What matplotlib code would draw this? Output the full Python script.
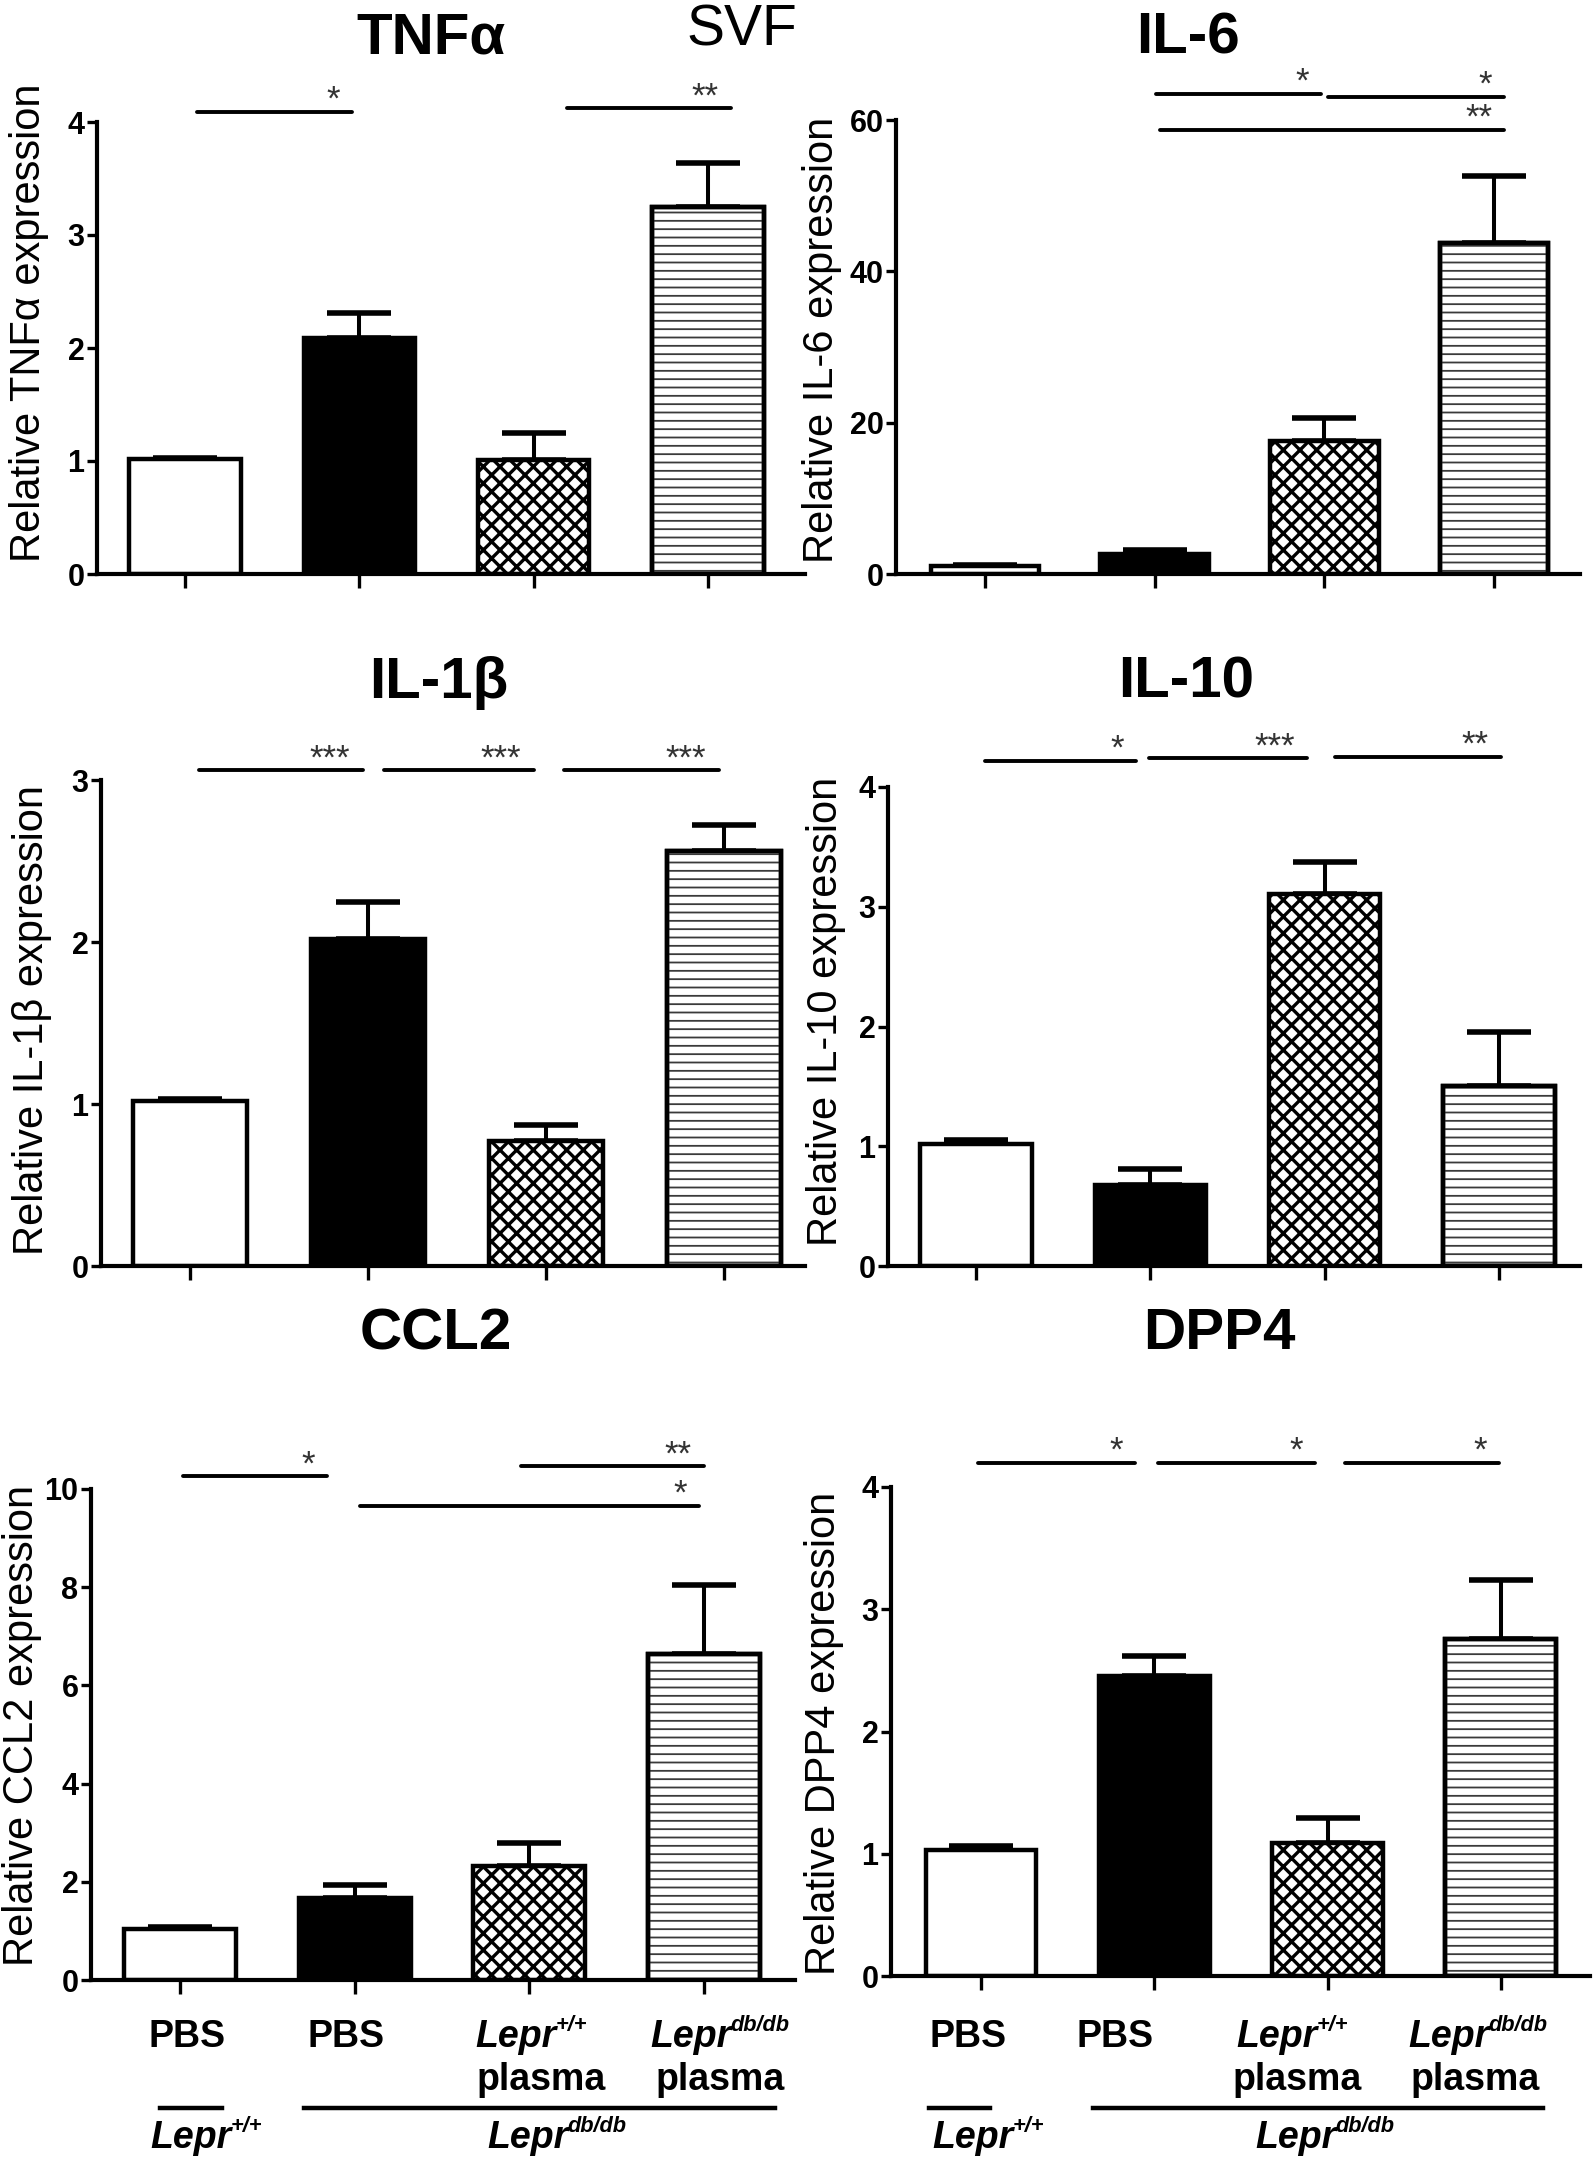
import matplotlib
matplotlib.use("Agg")
import matplotlib.pyplot as plt
import matplotlib.font_manager as fm
import numpy as np

W, H, DPI = 1594, 2160, 100

_names = {f.name for f in fm.fontManager.ttflist}
SANS = "Liberation Sans" if "Liberation Sans" in _names else "DejaVu Sans"
plt.rcParams["font.family"] = [SANS, "DejaVu Sans"]
plt.rcParams["hatch.linewidth"] = 2.4

# ---------------- data ----------------
groups = ["PBS", "PBS", "Lepr+/+ plasma", "Lepr db/db plasma"]

tnfa_mean = [1.02, 2.09, 1.01, 3.25]
tnfa_sem = [0.01, 0.22, 0.24, 0.39]
il6_mean = [1.0, 2.6, 17.6, 43.7]
il6_sem = [0.15, 0.6, 3.0, 8.9]
il1b_mean = [1.02, 2.02, 0.77, 2.56]
il1b_sem = [0.01, 0.23, 0.10, 0.16]
il10_mean = [1.02, 0.68, 3.11, 1.50]
il10_sem = [0.03, 0.13, 0.26, 0.45]
ccl2_mean = [1.03, 1.67, 2.32, 6.64]
ccl2_sem = [0.04, 0.26, 0.47, 1.40]
dpp4_mean = [1.03, 2.45, 1.09, 2.76]
dpp4_sem = [0.03, 0.17, 0.20, 0.48]

# significance brackets: (x start, x end, y, label)
tnfa_sig = [(0.07, 0.96, 4.09, "*"), (2.19, 3.13, 4.12, "**")]
il6_sig = [(1.01, 1.98, 63.5, "*"), (2.02, 3.06, 63.1, "*"), (1.03, 3.06, 58.7, "**")]
il1b_sig = [(0.05, 0.97, 3.06, "***"), (1.09, 1.93, 3.06, "***"), (2.10, 2.97, 3.06, "***")]
il10_sig = [(0.05, 0.92, 4.22, "*"), (0.99, 1.90, 4.24, "***"), (2.06, 3.01, 4.25, "**")]
ccl2_sig = [(0.02, 0.84, 10.26, "*"), (1.95, 3.00, 10.46, "**"), (1.03, 2.97, 9.65, "*")]
dpp4_sig = [(-0.02, 0.89, 4.20, "*"), (1.02, 1.93, 4.20, "*"), (2.10, 2.99, 4.20, "*")]

tnfa_ticks = [0, 1, 2, 3, 4]
il6_ticks = [0, 20, 40, 60]
il1b_ticks = [0, 1, 2, 3]
il10_ticks = [0, 1, 2, 3, 4]
ccl2_ticks = [0, 2, 4, 6, 8, 10]
dpp4_ticks = [0, 1, 2, 3, 4]

panels = [
    dict(title="TNFα", ylabel="Relative TNFα expression", mean=tnfa_mean, sem=tnfa_sem,
         sig=tnfa_sig, ticks=tnfa_ticks,
         box=(97, 805, 185, 174.3, 574, 122), tpos=(431, 53), lpos=(29, 323)),
    dict(title="IL-6", ylabel="Relative IL-6 expression", mean=il6_mean, sem=il6_sem,
         sig=il6_sig, ticks=il6_ticks,
         box=(896, 1580, 985, 169.7, 574, 120), tpos=(1188, 53), lpos=(822, 340)),
    dict(title="IL-1β", ylabel="Relative IL-1β expression", mean=il1b_mean, sem=il1b_sem,
         sig=il1b_sig, ticks=il1b_ticks,
         box=(101, 805, 190, 178.0, 1266, 780), tpos=(439, 698), lpos=(32, 1020)),
    dict(title="IL-10", ylabel="Relative IL-10 expression", mean=il10_mean, sem=il10_sem,
         sig=il10_sig, ticks=il10_ticks,
         box=(888, 1580, 976, 174.3, 1266, 787), tpos=(1186, 698), lpos=(826, 1011)),
    dict(title="CCL2", ylabel="Relative CCL2 expression", mean=ccl2_mean, sem=ccl2_sem,
         sig=ccl2_sig, ticks=ccl2_ticks,
         box=(91, 795, 180, 174.7, 1980, 1489), tpos=(436, 1350), lpos=(22, 1725)),
    dict(title="DPP4", ylabel="Relative DPP4 expression", mean=dpp4_mean, sem=dpp4_sem,
         sig=dpp4_sig, ticks=dpp4_ticks,
         box=(891, 1590, 981, 173.3, 1976, 1487), tpos=(1219, 1349), lpos=(824, 1733)),
]


def fx(x):
    return x / W


def fy(y):
    return 1 - y / H


fig = plt.figure(figsize=(W / DPI, H / DPI), dpi=DPI)
fig.patch.set_facecolor("white")

LW = 3.2
HATCH_GRAY = "#3a3a3a"

for p in panels:
    left, right, t0, sp, y0, ytop = p["box"]
    ax = fig.add_axes([fx(left), fy(y0), (right - left) / W, (y0 - ytop) / H])
    ax.set_xlim((left - t0) / sp, (right - t0) / sp)
    ax.set_ylim(0, p["ticks"][-1])
    x = np.arange(len(p["mean"]))
    mean = np.array(p["mean"])
    sem = np.array(p["sem"])

    ax.errorbar(x, mean, yerr=[np.zeros_like(sem), sem], fmt="none", ecolor="black",
                elinewidth=2.9, capsize=23, capthick=4.0, zorder=1, clip_on=False)
    bars = ax.bar(x, mean, width=0.64, color=["white", "black", "white", "white"],
                  edgecolor="black", linewidth=LW, zorder=2)
    bars[2].set_hatch("xx")
    stripes = ax.bar(x[3:], mean[3:], width=0.64, color="none", edgecolor=HATCH_GRAY,
                     hatch="--", linewidth=0, zorder=3)
    for s in stripes:
        if hasattr(s, "set_hatch_linewidth"):
            s.set_hatch_linewidth(1.3)
    ax.bar(x[3:], mean[3:], width=0.64, fill=False, edgecolor="black", linewidth=LW, zorder=4)

    for (xa, xb, yy, lab) in p["sig"]:
        ax.plot([xa, xb], [yy, yy], color="black", lw=2.8, solid_capstyle="round",
                clip_on=False, zorder=5)
        ax.annotate(lab, xy=(xb - 0.07, yy), xytext=(0, 1.5), textcoords="offset points",
                    ha="right", va="baseline", fontsize=25, color="#333333",
                    annotation_clip=False)

    for side in ("top", "right"):
        ax.spines[side].set_visible(False)
    for side in ("left", "bottom"):
        ax.spines[side].set_linewidth(3.0)
    ax.set_xticks(x)
    ax.set_xticklabels([])
    ax.tick_params(axis="x", length=10, width=2.4, direction="out")
    ax.set_yticks(p["ticks"])
    ax.set_yticklabels([str(t) for t in p["ticks"]], fontweight="bold")
    ax.tick_params(axis="y", length=7, width=2.4, direction="out", labelsize=22, pad=2)
    ax.set_facecolor("none")

    fig.text(fx(p["tpos"][0]), fy(p["tpos"][1]), p["title"], fontsize=42,
             fontweight="bold", ha="center", va="baseline")
    fig.text(fx(p["lpos"][0]), fy(p["lpos"][1]), p["ylabel"], fontsize=30,
             rotation=90, ha="center", va="center")

fig.text(fx(742), fy(45), "SVF", fontsize=41, ha="center", va="baseline")

# ---------- group labels under the bottom row ----------
renderer = fig.canvas.get_renderer()
FS = 27


def lepr_label(xc, yb, sup):
    t1 = fig.text(0, fy(yb), "Lepr", fontsize=FS, fontweight="bold", fontstyle="italic",
                  ha="left", va="baseline")
    t2 = fig.text(0, fy(yb - 0.42 * FS * DPI / 72), sup, fontsize=FS * 0.58,
                  fontweight="bold", fontstyle="italic", ha="left", va="baseline")
    w1 = t1.get_window_extent(renderer).width
    w2 = t2.get_window_extent(renderer).width
    x0 = xc - (w1 + w2) / 2
    t1.set_x(fx(x0))
    t2.set_x(fx(x0 + w1 - 1))


def plain(xc, yb, s):
    fig.text(fx(xc), fy(yb), s, fontsize=FS, fontweight="bold", ha="center", va="baseline")


label_x = [[187, 346, 532, 720], [968, 1115, 1293, 1478]]
plasma_x = [[541, 720], [1297, 1475]]
under_lines = [[(160, 222), (304, 775)], [(929, 990), (1093, 1543)]]
strain_x = [[207, 557], [989, 1325]]

for k in range(2):
    lx = label_x[k]
    plain(lx[0], 2047, groups[0])
    plain(lx[1], 2047, groups[1])
    lepr_label(lx[2], 2047, "+/+")
    lepr_label(lx[3], 2047, "db/db")
    plain(plasma_x[k][0], 2090, "plasma")
    plain(plasma_x[k][1], 2090, "plasma")
    for (xa, xb) in under_lines[k]:
        fig.add_artist(plt.Line2D([fx(xa), fx(xb)], [fy(2108), fy(2108)], color="black",
                                  lw=3.2, transform=fig.transFigure))
    lepr_label(strain_x[k][0], 2148, "+/+")
    lepr_label(strain_x[k][1], 2148, "db/db")

fig.savefig("out.png", dpi=DPI, facecolor="white")
